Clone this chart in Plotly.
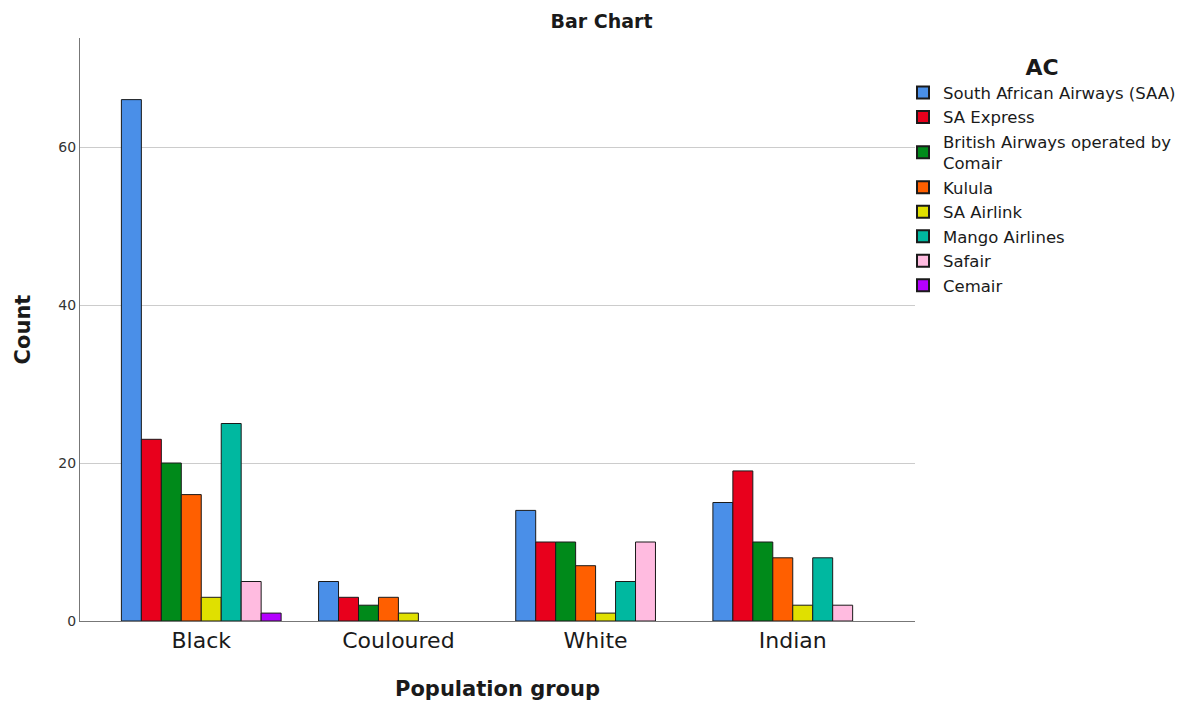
import plotly.graph_objects as go

# Population groups on the x axis
groups = ["Black", "Couloured", "White", "Indian"]

# Airline carriers (legend entries)
carriers = [
    "South African Airways (SAA)",
    "SA Express",
    "British Airways operated by<br>Comair",
    "Kulula",
    "SA Airlink",
    "Mango Airlines",
    "Safair",
    "Cemair",
]

# Counts per carrier, ordered by population group
saa = [66, 5, 14, 15]
sa_express = [23, 3, 10, 19]
ba_comair = [20, 2, 10, 10]
kulula = [16, 3, 7, 8]
sa_airlink = [3, 1, 1, 2]
mango = [25, 0, 5, 8]
safair = [5, 0, 10, 2]
cemair = [1, 0, 0, 0]

series = [saa, sa_express, ba_comair, kulula, sa_airlink, mango, safair, cemair]

colors = ["#4a8fe8", "#e8001c", "#008a1a", "#ff5f00",
          "#e0e000", "#00b8a0", "#ffbbe0", "#b400ff"]

fig = go.Figure()
for name, vals, col in zip(carriers, series, colors):
    # empty cells get no outline so nothing is drawn on the baseline
    outline = [1 if v > 0 else 0 for v in vals]
    fig.add_trace(go.Bar(
        name=name,
        x=groups,
        y=vals,
        marker=dict(color=col, line=dict(color="#1a1a1a", width=outline)),
    ))

fig.update_layout(
    width=1203,
    height=703,
    barmode="group",
    bargap=0.19,
    bargroupgap=0,
    plot_bgcolor="white",
    paper_bgcolor="white",
    font=dict(family="DejaVu Sans", color="#1a1a1a"),
    margin=dict(l=80, r=288, t=38, b=82, autoexpand=False),
    title=dict(text="<b>Bar Chart</b>", x=0.5, xref="container", xanchor="center",
               y=0.97, yanchor="middle", font=dict(size=19)),
    legend=dict(
        title=dict(text="<b>AC</b>", side="top center", font=dict(size=22)),
        x=0.9856, xanchor="left", y=0.985, yanchor="top",
        font=dict(size=16.5),
        bgcolor="rgba(0,0,0,0)",
        tracegroupgap=0,
        itemsizing="constant",
    ),
    xaxis=dict(
        title=dict(text="<b>Population group</b>", font=dict(size=21), standoff=28),
        tickfont=dict(size=22),
        automargin=False,
        showline=True, linecolor="#777777", linewidth=1,
        range=[-0.615, 3.62],
        ticks="",
    ),
    yaxis=dict(
        title=dict(text="<b>Count</b>", font=dict(size=21), standoff=22),
        tickfont=dict(size=14, color="#333333"),
        automargin=False,
        range=[0, 73.8],
        tickvals=[0, 20, 40, 60],
        showgrid=True, gridcolor="#cccccc", gridwidth=1,
        showline=True, linecolor="#777777", linewidth=1,
        zeroline=False,
        ticks="",
    ),
)

fig.write_html("out.html")
